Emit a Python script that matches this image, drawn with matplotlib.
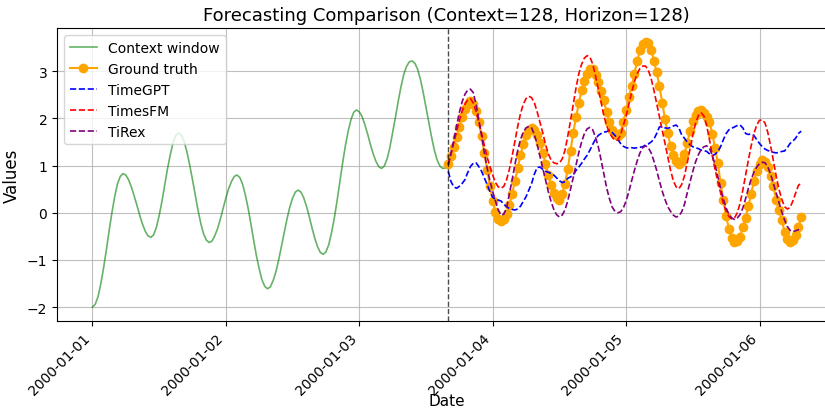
import matplotlib
matplotlib.use('Agg')
import matplotlib.pyplot as plt
import matplotlib.dates as mdates
import pandas as pd

# ---- data ----
context_window = [
    -2.00, -1.94, -1.78, -1.51, -1.17, -0.79, -0.38, 0.00, 0.34, 0.61, 0.77, 0.83,
    0.80, 0.70, 0.55, 0.36, 0.16, -0.05, -0.24, -0.39, -0.49, -0.52,
    -0.47, -0.31, -0.06, 0.24, 0.59, 0.93, 1.23, 1.48, 1.64, 1.69,
    1.64, 1.51, 1.29, 1.01, 0.70, 0.37, 0.05, -0.23, -0.45, -0.58, -0.63,
    -0.60, -0.49, -0.34, -0.14, 0.09, 0.31, 0.51, 0.66, 0.77, 0.80,
    0.75, 0.61, 0.38, 0.10, -0.23, -0.58, -0.91, -1.19, -1.42, -1.56, -1.61,
    -1.57, -1.44, -1.25, -1.00, -0.71, -0.42, -0.13, 0.12, 0.31, 0.44, 0.48,
    0.44, 0.32, 0.14, -0.08, -0.32, -0.54, -0.72, -0.84, -0.88,
    -0.83, -0.68, -0.43, -0.12, 0.25, 0.65, 1.05, 1.42, 1.73, 1.97, 2.13, 2.18,
    2.14, 2.04, 1.87, 1.67, 1.45, 1.25, 1.09, 0.98, 0.94,
    0.99, 1.14, 1.38, 1.70, 2.02, 2.36, 2.67, 2.93, 3.10, 3.20, 3.22,
    3.17, 3.04, 2.83, 2.55, 2.24, 1.92, 1.61, 1.33, 1.12, 0.99, 0.94,
    0.95,
]

ground_truth = [
    1.04, 1.20, 1.40, 1.60, 1.82, 2.02, 2.19, 2.31, 2.36,
    2.31, 2.16, 1.92, 1.62, 1.27, 0.91, 0.56, 0.26, 0.02, -0.13, -0.18,
    -0.14, -0.02, 0.16, 0.40, 0.67, 0.95, 1.22, 1.46, 1.64, 1.76, 1.80,
    1.76, 1.65, 1.48, 1.27, 1.04, 0.80, 0.59, 0.42, 0.31, 0.28,
    0.40, 0.62, 0.92, 1.32, 1.70, 2.03, 2.32, 2.60, 2.80, 2.95, 3.05, 3.05,
    2.92, 2.77, 2.58, 2.38, 2.13, 1.92, 1.76, 1.66, 1.63, 1.70,
    1.93, 2.17, 2.45, 2.68, 2.95, 3.22, 3.44, 3.57, 3.62, 3.59, 3.46,
    3.22, 2.98, 2.68, 2.33, 1.99, 1.69, 1.42, 1.22, 1.09, 1.04,
    1.10, 1.25, 1.48, 1.74, 1.95, 2.08, 2.15, 2.17, 2.12, 2.04, 1.92, 1.68, 1.38, 1.05, 0.63, 0.27,
    -0.06, -0.35, -0.53, -0.62, -0.60, -0.52, -0.30, -0.10, 0.14, 0.40, 0.68,
    0.88, 1.03, 1.11, 1.08, 0.96, 0.78, 0.56, 0.27, 0.05, -0.15, -0.40, -0.55, -0.62, -0.58, -0.48, -0.30, -0.08,
]

timegpt = [
    0.88, 0.66, 0.55, 0.52, 0.56, 0.62, 0.70, 0.85, 0.98, 1.05,
    1.06, 0.98, 0.88, 0.74, 0.60, 0.45, 0.33, 0.28, 0.27, 0.25,
    0.18, 0.13, 0.09, 0.07, 0.06, 0.08, 0.14, 0.24, 0.34, 0.48,
    0.62, 0.82, 0.96, 0.97, 0.92, 0.88, 0.86, 0.83, 0.80, 0.74,
    0.68, 0.64, 0.66, 0.73, 0.76, 0.80, 0.90, 0.97, 1.05, 1.14,
    1.22, 1.33, 1.45, 1.56, 1.64, 1.68, 1.71, 1.72, 1.75, 1.70,
    1.64, 1.56, 1.47, 1.41, 1.38, 1.37, 1.38, 1.37, 1.38, 1.39,
    1.40, 1.44, 1.46, 1.50, 1.56, 1.68, 1.82, 1.83, 1.80, 1.79,
    1.81, 1.84, 1.86, 1.80, 1.65, 1.58, 1.50, 1.44, 1.40, 1.38,
    1.36, 1.33, 1.32, 1.30, 1.25, 1.21, 1.24, 1.30, 1.40, 1.55,
    1.68, 1.76, 1.79, 1.82, 1.85, 1.86, 1.80, 1.68, 1.66, 1.67,
    1.64, 1.55, 1.47, 1.40, 1.35, 1.32, 1.30, 1.28, 1.27, 1.28,
    1.30, 1.31, 1.38, 1.47, 1.52, 1.58, 1.68, 1.73,
]

timesfm = [
    1.02, 1.25, 1.48, 1.72, 1.95, 2.15, 2.30, 2.39, 2.42, 2.33,
    2.15, 1.92, 1.68, 1.43, 1.18, 0.98, 0.80, 0.64, 0.55, 0.52,
    0.56, 0.70, 0.92, 1.20, 1.52, 1.83, 2.10, 2.30, 2.42, 2.47,
    2.44, 2.33, 2.14, 1.92, 1.70, 1.45, 1.25, 1.12, 1.06, 1.04,
    1.05, 1.14, 1.32, 1.62, 1.95, 2.30, 2.65, 2.95, 3.15, 3.28,
    3.33, 3.30, 3.15, 2.90, 2.63, 2.35, 2.06, 1.85, 1.70, 1.60,
    1.54, 1.54, 1.65, 1.85, 2.05, 2.30, 2.55, 2.78, 2.95, 3.06,
    3.11, 3.11, 3.02, 2.85, 2.60, 2.32, 2.04, 1.76, 1.47, 1.18,
    0.90, 0.68, 0.55, 0.51, 0.60, 0.78, 1.06, 1.36, 1.65, 1.90,
    2.06, 2.12, 2.05, 1.85, 1.55, 1.22, 0.92, 0.66, 0.42, 0.20,
    0.03, -0.08, -0.13, -0.11, 0.00, 0.20, 0.48, 0.80, 1.12, 1.42,
    1.68, 1.86, 1.96, 1.97, 1.90, 1.70, 1.42, 1.10, 0.78, 0.50,
    0.29, 0.13, 0.08, 0.11, 0.25, 0.42, 0.58, 0.63,
]

tirex = [
    1.02, 1.26, 1.55, 1.85, 2.12, 2.35, 2.51, 2.60, 2.62, 2.55,
    2.30, 1.98, 1.64, 1.27, 0.95, 0.68, 0.45, 0.25, 0.06, -0.05,
    -0.03, 0.10, 0.40, 0.70, 1.02, 1.32, 1.55, 1.71, 1.80, 1.83,
    1.80, 1.66, 1.45, 1.20, 0.95, 0.70, 0.45, 0.24, 0.07, -0.04,
    -0.09, -0.05, 0.06, 0.25, 0.50, 0.75, 1.02, 1.28, 1.50, 1.68,
    1.78, 1.81, 1.76, 1.60, 1.40, 1.12, 0.82, 0.53, 0.30, 0.12,
    0.03, 0.00, 0.02, 0.10, 0.25, 0.45, 0.68, 0.90, 1.10, 1.27,
    1.38, 1.42, 1.38, 1.27, 1.10, 0.90, 0.67, 0.46, 0.28, 0.13,
    0.03, -0.05, -0.09, -0.07, 0.02, 0.18, 0.42, 0.65, 0.88, 1.08,
    1.23, 1.34, 1.40, 1.42, 1.37, 1.22, 1.02, 0.77, 0.52, 0.29,
    0.10, -0.03, -0.11, -0.14, -0.11, -0.04, 0.10, 0.30, 0.52, 0.71,
    0.86, 0.97, 1.04, 1.07, 1.06, 0.97, 0.82, 0.62, 0.42, 0.22,
    0.02, -0.15, -0.29, -0.37, -0.40, -0.38, -0.36, -0.33,
]

start_date = '2000-01-01'
frequency = '30min'
title = 'Forecasting Comparison (Context=128, Horizon=128)'

# ---- dates ----
n_ctx = len(context_window)
n_fc = len(ground_truth)
all_dates = pd.date_range(start_date, periods=n_ctx + n_fc, freq=frequency)
ctx_dates = all_dates[:n_ctx]
fc_dates = all_dates[n_ctx:]

# ---- figure ----
fig = plt.figure(figsize=(8.25, 4.1), dpi=100)
ax_rect = [0.0691, 0.2139, 0.945, 0.7146]
ax = fig.add_axes(ax_rect)

ax.plot(ctx_dates, context_window, color='green', alpha=0.6, linewidth=1.2,
        label='Context window')
ax.plot(fc_dates, ground_truth, color='orange', marker='o', markersize=6,
        linewidth=1.5, label='Ground truth')
ax.plot(fc_dates, timegpt, color='blue', linestyle='--', linewidth=1.2,
        label='TimeGPT')
ax.plot(fc_dates, timesfm, color='red', linestyle='--', linewidth=1.2,
        label='TimesFM')
ax.plot(fc_dates, tirex, color='purple', linestyle='--', linewidth=1.2,
        label='TiRex')
ax.axvline(fc_dates[0], color='black', linestyle='--', alpha=0.7, linewidth=1)

ax.set_title(title, fontsize=13)
ax.set_ylabel('Values', fontsize=12)
ax.set_xlabel('Date', fontsize=11)
# keep the x label inside the canvas, right under the rotated tick labels
ax.xaxis.set_label_coords(ax_rect[0] + ax_rect[2] / 2, 0.003,
                          transform=fig.transFigure)
ax.xaxis.label.set_verticalalignment('bottom')

ax.grid(True, alpha=0.8)
ax.legend(loc='upper left', fontsize=10)

ax.xaxis.set_major_locator(mdates.DayLocator())
ax.xaxis.set_major_formatter(mdates.DateFormatter('%Y-%m-%d'))
plt.setp(ax.get_xticklabels(), rotation=45, ha='right')
ax.set_ylim(-2.30, 3.91)

fig.savefig('out.png', dpi=100)
